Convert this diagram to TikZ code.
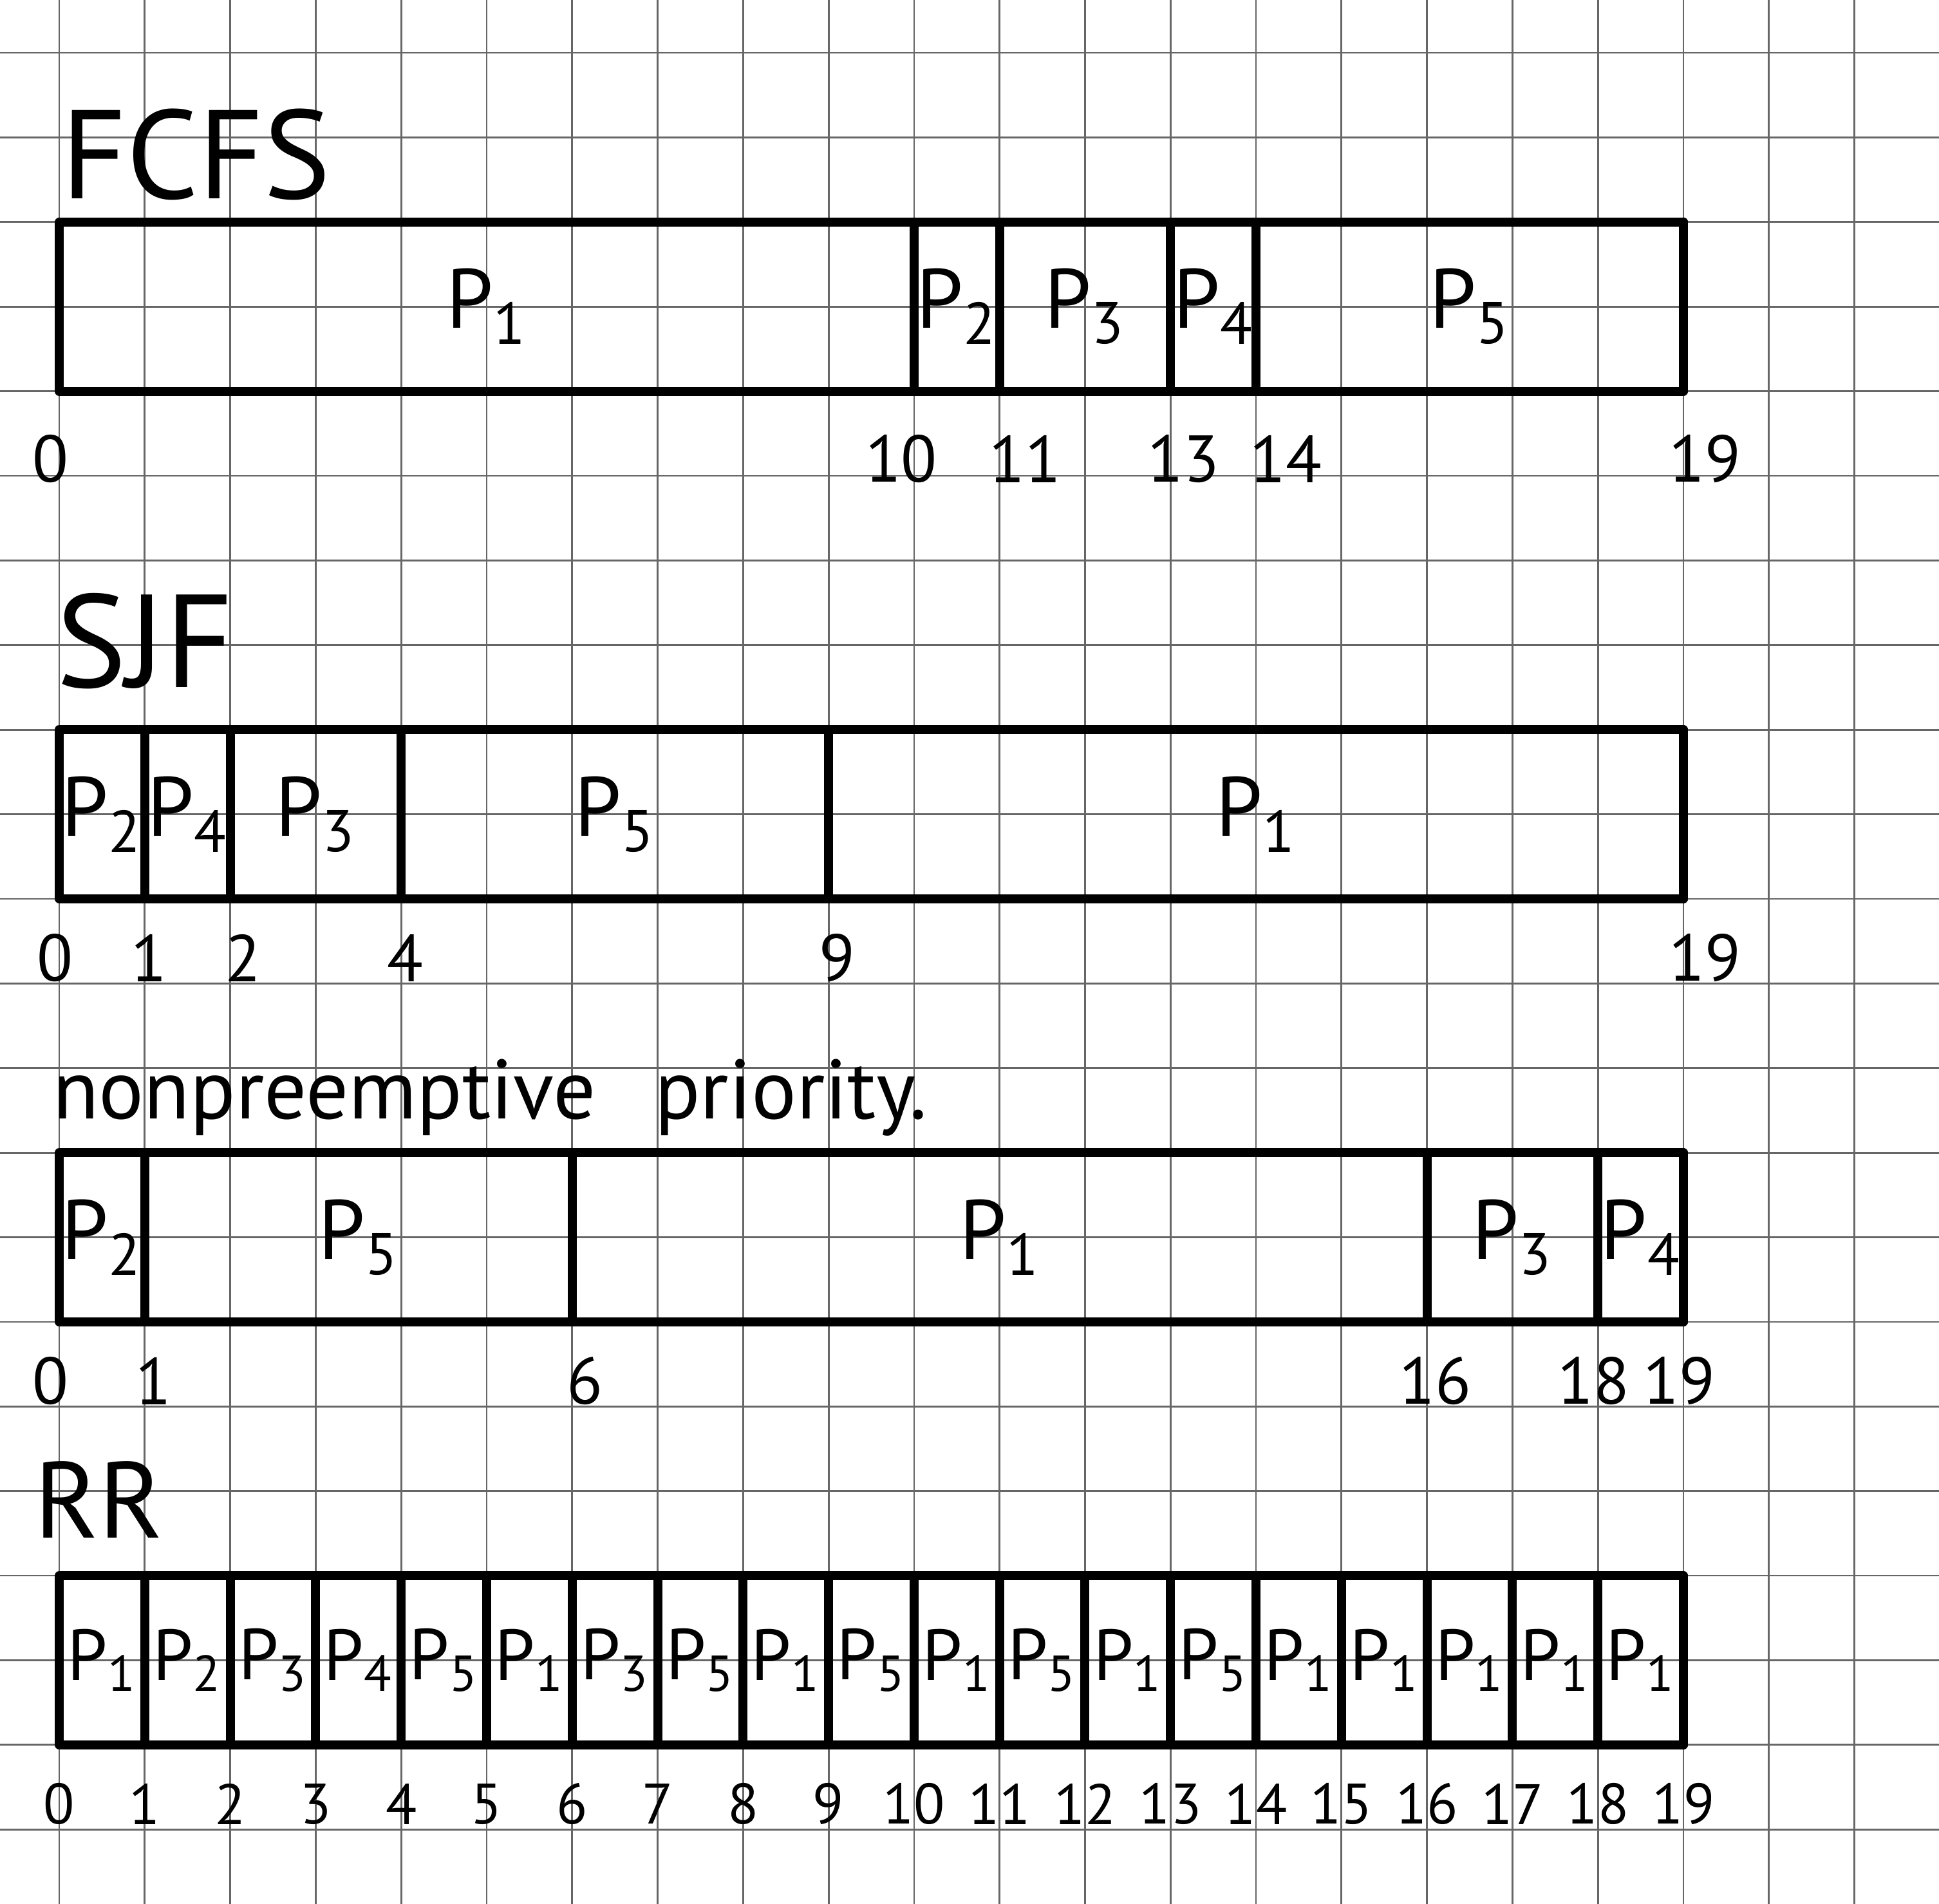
\documentclass[tikz,border=0pt]{standalone}
\usepackage{fontspec}
\setmainfont{PT Sans}

\begin{document}
\begin{tikzpicture}[x=1cm, y=-0.9895cm,
        paper/.style={draw=black!60, line width=0.6pt},
        bar/.style={draw, line width=3pt, line join=round, line cap=round},
        proc/.style={inner sep=0pt, font=\fontsize{28}{30}\selectfont},
        stamp/.style={inner sep=0pt, font=\fontsize{22}{24}\selectfont},
        title/.style={inner sep=0pt, font=\fontsize{44}{46}\selectfont}
    ]

    \def\xl{-0.693}
    \def\xr{21.99}
    \def\yt{-0.624}
    \def\yb{21.88}
    \def\dl{0.7}

    \useasboundingbox (\xl,\yt) rectangle (\xr,\yb);

    % squared paper
    \foreach \k in {0,...,21}{
        \draw[paper] (\k,\yt) -- (\k,\yb);
        \draw[paper] (\xl,\k) -- (\xr,\k);
    }

    % FCFS
    \def\row{2}
    \node[title, font=\fontsize{42}{44}\selectfont] (fcfs) at (1.6,1.2) {FCFS};
    \draw[bar] (0,\row) rectangle (19,\row+2);
    \foreach \a/\b/\p in {0/10/1,10/11/2,11/13/3,13/14/4,14/19/5}{
        \draw[bar] (\b,\row) -- (\b,\row+2);
        \node[proc] (fcfs-\p) at ({(\a+\b)/2},\row+1) {P\textsubscript{\p}};
    }
    \foreach \t/\x in {0/-0.1,10/9.85,11/11.3,13/13.15,14/14.35,19/19.25}
        \node[stamp] (fcfs-t\t) at (\x,\row+2+\dl+0.1) {\t};

    % SJF
    \def\row{8}
    \node[title] (sjf) at (1.0,6.95) {SJF};
    \draw[bar] (0,\row) rectangle (19,\row+2);
    \foreach \a/\b/\p in {0/1/2,1/2/4,2/4/3,4/9/5,9/19/1}{
        \draw[bar] (\b,\row) -- (\b,\row+2);
        \node[proc] (sjf-\p) at ({(\a+\b)/2},\row+1) {P\textsubscript{\p}};
    }
    \foreach \t/\x in {0/-0.05,1/1.05,2/2.15,4/4.05,9/9.1,19/19.25}
        \node[stamp] (sjf-t\t) at (\x,\row+2+\dl) {\t};

    % nonpreemptive priority
    \def\row{13}
    \node[title, font=\fontsize{28}{30}\selectfont, anchor=base west]
        (prio) at (-0.08,12.6) {nonpreemptive\hspace{0.7em}priority.};
    \draw[bar] (0,\row) rectangle (19,\row+2);
    \foreach \a/\b/\p in {0/1/2,1/6/5,6/16/1,16/18/3,18/19/4}{
        \draw[bar] (\b,\row) -- (\b,\row+2);
        \node[proc] (prio-\p) at ({(\a+\b)/2},\row+1) {P\textsubscript{\p}};
    }
    \foreach \t/\x in {0/-0.1,1/1.1,6/6.15,16/16.1,18/17.95,19/18.95}
        \node[stamp] (prio-t\t) at (\x,\row+2+\dl) {\t};

    % RR
    \def\row{18}
    \node[title, font=\fontsize{36}{38}\selectfont] (rr) at (0.46,17.1) {RR};
    \draw[bar] (0,\row) rectangle (19,\row+2);
    \foreach \p [count=\i from 0] in {1,2,3,4,5,1,3,5,1,5,1,5,1,5,1,1,1,1,1}{
        \draw[bar] (\i+1,\row) -- (\i+1,\row+2);
        \node[proc, font=\fontsize{24}{26}\selectfont] (rr-\i) at (\i+0.5,\row+1) {P\textsubscript{\p}};
    }
    \foreach \t in {0,...,19}
        \node[stamp, font=\fontsize{19}{21}\selectfont] (rr-t\t) at (\t,\row+2+\dl) {\t};
\end{tikzpicture}
\end{document}
